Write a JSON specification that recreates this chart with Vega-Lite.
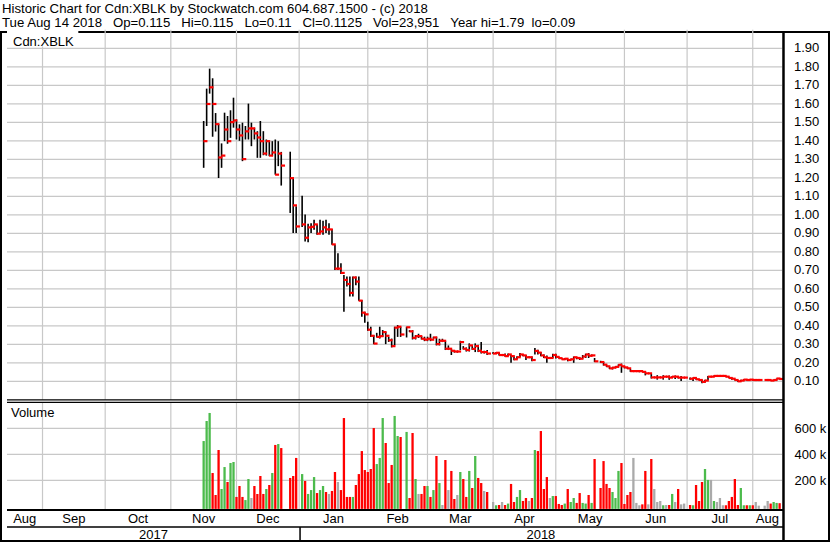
{
"$schema": "https://vega.github.io/schema/vega-lite/v6.json",
"width": 828, "height": 509,
"autosize": {"type": "none"},
"padding": {"left": 1, "top": 32, "right": 1, "bottom": 2},
"background": "white",
"config": {
  "view": {"stroke": "black", "strokeWidth": 2},
  "font": "Liberation Sans",
  "text": {"font": "Liberation Sans", "fontSize": 13, "color": "black"},
  "axis": {"labelFont": "Liberation Sans", "labelFontSize": 13, "labelColor": "black", "domain": false, "ticks": false, "grid": false, "title": null, "labelOverlap": false, "labelFlush": false}
},
"title": {
  "text": ["Historic Chart for Cdn:XBLK by Stockwatch.com 604.687.1500 - (c) 2018",
           "Tue Aug 14 2018\u00a0\u00a0\u00a0Op=0.115\u00a0\u00a0\u00a0Hi=0.115\u00a0\u00a0\u00a0Lo=0.11\u00a0\u00a0\u00a0Cl=0.1125\u00a0\u00a0\u00a0Vol=23,951\u00a0\u00a0\u00a0Year hi=1.79\u00a0\u00a0lo=0.09"],
  "anchor": "start", "frame": "group", "offset": 0, "dx": 1, "dy": 1,
  "font": "Liberation Sans", "fontSize": 13.2, "fontWeight": "normal", "color": "black", "lineHeight": 14.5
},
"datasets": {
  "pgrid": [{"p":0.1},{"p":0.2},{"p":0.3},{"p":0.4},{"p":0.5},{"p":0.6},{"p":0.7},{"p":0.8},{"p":0.9},{"p":1.0},{"p":1.1},{"p":1.2},{"p":1.3},{"p":1.4},{"p":1.5},{"p":1.6},{"p":1.7},{"p":1.8},{"p":1.9}],
  "vgrid": [{"v":200000},{"v":400000},{"v":600000}],
  "mstart": [{"s":0},{"s":21},{"s":43},{"s":65},{"s":86},{"s":109},{"s":129},{"s":151},{"s":172},{"s":195},{"s":216},{"s":238}],
  "mlab": [{"m":"Aug","mid":-5.95},{"m":"Sep","mid":10.5},{"m":"Oct","mid":32},{"m":"Nov","mid":54},{"m":"Dec","mid":75.5},{"m":"Jan","mid":97.5},{"m":"Feb","mid":119},{"m":"Mar","mid":140},{"m":"Apr","mid":161.5},{"m":"May","mid":183.5},{"m":"Jun","mid":205.5},{"m":"Jul","mid":227},{"m":"Aug","mid":242.9}],
  "ylab": [{"y":"2017","mid":37.2},{"y":"2018","mid":167}],
  "bars": [
{"i":54,"h":1.507,"l":1.254,"c":1.398,"v":502000,"d":"up"},
{"i":55,"h":1.682,"l":1.48,"c":1.599,"v":656000,"d":"up"},
{"i":56,"h":1.79,"l":1.655,"c":1.689,"v":718000,"d":"up"},
{"i":57,"h":1.738,"l":1.422,"c":1.599,"v":256000,"d":"down"},
{"i":58,"h":1.55,"l":1.45,"c":1.49,"v":87000,"d":"down"},
{"i":59,"h":1.492,"l":1.199,"c":1.31,"v":433000,"d":"down"},
{"i":60,"h":1.386,"l":1.254,"c":1.32,"v":133000,"d":"up"},
{"i":61,"h":1.552,"l":1.398,"c":1.461,"v":302000,"d":"up"},
{"i":62,"h":1.534,"l":1.384,"c":1.398,"v":187000,"d":"down"},
{"i":63,"h":1.565,"l":1.416,"c":1.501,"v":333000,"d":"up"},
{"i":64,"h":1.633,"l":1.471,"c":1.51,"v":341000,"d":"up"},
{"i":65,"h":1.516,"l":1.407,"c":1.461,"v":72000,"d":"down"},
{"i":66,"h":1.489,"l":1.4,"c":1.429,"v":156000,"d":"down"},
{"i":67,"h":1.498,"l":1.29,"c":1.301,"v":72000,"d":"down"},
{"i":68,"h":1.48,"l":1.407,"c":1.451,"v":48000,"d":"up"},
{"i":69,"h":1.601,"l":1.407,"c":1.467,"v":210000,"d":"up"},
{"i":70,"h":1.498,"l":1.371,"c":1.467,"v":64000,"d":"flat"},
{"i":71,"h":1.471,"l":1.407,"c":1.44,"v":156000,"d":"down"},
{"i":72,"h":1.452,"l":1.308,"c":1.418,"v":95000,"d":"down"},
{"i":73,"h":1.507,"l":1.308,"c":1.398,"v":233000,"d":"down"},
{"i":74,"h":1.452,"l":1.322,"c":1.331,"v":95000,"d":"down"},
{"i":75,"h":1.407,"l":1.32,"c":1.398,"v":133000,"d":"up"},
{"i":76,"h":1.398,"l":1.317,"c":1.32,"v":164000,"d":"down"},
{"i":77,"h":1.398,"l":1.317,"c":1.337,"v":256000,"d":"up"},
{"i":78,"h":1.407,"l":1.217,"c":1.217,"v":472000,"d":"down"},
{"i":79,"h":1.398,"l":1.263,"c":1.331,"v":479000,"d":"up"},
{"i":80,"h":1.34,"l":1.158,"c":1.266,"v":448000,"d":"down"},
{"i":83,"h":1.341,"l":1.01,"c":1.198,"v":218000,"d":"down"},
{"i":84,"h":1.2,"l":0.901,"c":1.051,"v":233000,"d":"down"},
{"i":85,"h":1.046,"l":0.901,"c":0.937,"v":372000,"d":"down"},
{"i":87,"h":1.103,"l":0.934,"c":0.948,"v":248000,"d":"up"},
{"i":88,"h":1.001,"l":0.856,"c":0.876,"v":195000,"d":"down"},
{"i":89,"h":0.952,"l":0.851,"c":0.932,"v":95000,"d":"up"},
{"i":90,"h":0.955,"l":0.901,"c":0.935,"v":125000,"d":"up"},
{"i":91,"h":0.973,"l":0.919,"c":0.948,"v":225000,"d":"up"},
{"i":92,"h":0.946,"l":0.892,"c":0.898,"v":102000,"d":"down"},
{"i":93,"h":0.973,"l":0.901,"c":0.91,"v":125000,"d":"up"},
{"i":94,"h":0.968,"l":0.892,"c":0.932,"v":156000,"d":"up"},
{"i":95,"h":0.973,"l":0.901,"c":0.921,"v":110000,"d":"down"},
{"i":96,"h":0.955,"l":0.892,"c":0.921,"v":95000,"d":"flat"},
{"i":97,"h":0.923,"l":0.838,"c":0.84,"v":118000,"d":"down"},
{"i":98,"h":0.838,"l":0.702,"c":0.709,"v":264000,"d":"down"},
{"i":99,"h":0.792,"l":0.702,"c":0.709,"v":187000,"d":"flat"},
{"i":100,"h":0.738,"l":0.68,"c":0.686,"v":125000,"d":"down"},
{"i":101,"h":0.675,"l":0.476,"c":0.648,"v":679000,"d":"down"},
{"i":102,"h":0.666,"l":0.612,"c":0.626,"v":72000,"d":"down"},
{"i":103,"h":0.666,"l":0.558,"c":0.578,"v":72000,"d":"down"},
{"i":104,"h":0.666,"l":0.558,"c":0.661,"v":72000,"d":"up"},
{"i":105,"h":0.666,"l":0.619,"c":0.639,"v":164000,"d":"down"},
{"i":106,"h":0.666,"l":0.536,"c":0.536,"v":248000,"d":"down"},
{"i":107,"h":0.54,"l":0.449,"c":0.471,"v":425000,"d":"down"},
{"i":108,"h":0.476,"l":0.416,"c":0.462,"v":279000,"d":"down"},
{"i":109,"h":0.422,"l":0.373,"c":0.379,"v":264000,"d":"down"},
{"i":110,"h":0.395,"l":0.34,"c":0.346,"v":287000,"d":"down"},
{"i":111,"h":0.349,"l":0.301,"c":0.304,"v":602000,"d":"down"},
{"i":112,"h":0.362,"l":0.337,"c":0.34,"v":325000,"d":"up"},
{"i":113,"h":0.395,"l":0.331,"c":0.344,"v":372000,"d":"up"},
{"i":114,"h":0.377,"l":0.34,"c":0.366,"v":679000,"d":"up"},
{"i":115,"h":0.368,"l":0.301,"c":0.346,"v":487000,"d":"down"},
{"i":116,"h":0.34,"l":0.313,"c":0.322,"v":179000,"d":"down"},
{"i":117,"h":0.331,"l":0.283,"c":0.29,"v":318000,"d":"down"},
{"i":118,"h":0.395,"l":0.295,"c":0.39,"v":695000,"d":"up"},
{"i":119,"h":0.404,"l":0.34,"c":0.395,"v":541000,"d":"up"},
{"i":120,"h":0.395,"l":0.34,"c":0.353,"v":533000,"d":"down"},
{"i":122,"h":0.395,"l":0.337,"c":0.392,"v":572000,"d":"up"},
{"i":123,"h":0.377,"l":0.366,"c":0.37,"v":64000,"d":"down"},
{"i":124,"h":0.377,"l":0.326,"c":0.335,"v":564000,"d":"down"},
{"i":125,"h":0.35,"l":0.326,"c":0.344,"v":210000,"d":"up"},
{"i":126,"h":0.357,"l":0.334,"c":0.344,"v":95000,"d":"flat"},
{"i":127,"h":0.345,"l":0.326,"c":0.33,"v":95000,"d":"down"},
{"i":128,"h":0.341,"l":0.317,"c":0.325,"v":156000,"d":"down"},
{"i":129,"h":0.341,"l":0.317,"c":0.33,"v":156000,"d":"up"},
{"i":130,"h":0.357,"l":0.317,"c":0.325,"v":72000,"d":"down"},
{"i":131,"h":0.341,"l":0.33,"c":0.337,"v":125000,"d":"up"},
{"i":132,"h":0.341,"l":0.294,"c":0.301,"v":387000,"d":"down"},
{"i":133,"h":0.33,"l":0.294,"c":0.319,"v":179000,"d":"up"},
{"i":134,"h":0.33,"l":0.312,"c":0.319,"v":10000,"d":"flat"},
{"i":135,"h":0.319,"l":0.269,"c":0.276,"v":356000,"d":"down"},
{"i":136,"h":0.294,"l":0.269,"c":0.276,"v":125000,"d":"flat"},
{"i":137,"h":0.276,"l":0.242,"c":0.265,"v":272000,"d":"down"},
{"i":138,"h":0.269,"l":0.255,"c":0.261,"v":56000,"d":"down"},
{"i":139,"h":0.265,"l":0.255,"c":0.261,"v":87000,"d":"flat"},
{"i":140,"h":0.319,"l":0.269,"c":0.312,"v":264000,"d":"up"},
{"i":141,"h":0.29,"l":0.272,"c":0.276,"v":210000,"d":"down"},
{"i":142,"h":0.283,"l":0.261,"c":0.269,"v":72000,"d":"down"},
{"i":143,"h":0.305,"l":0.261,"c":0.294,"v":272000,"d":"up"},
{"i":144,"h":0.294,"l":0.27,"c":0.275,"v":141000,"d":"down"},
{"i":145,"h":0.305,"l":0.258,"c":0.29,"v":387000,"d":"up"},
{"i":146,"h":0.297,"l":0.258,"c":0.265,"v":218000,"d":"down"},
{"i":147,"h":0.312,"l":0.25,"c":0.258,"v":179000,"d":"down"},
{"i":148,"h":0.265,"l":0.25,"c":0.258,"v":118000,"d":"flat"},
{"i":149,"h":0.269,"l":0.242,"c":0.25,"v":110000,"d":"down"},
{"i":151,"h":0.258,"l":0.247,"c":0.25,"v":33000,"d":"flat"},
{"i":152,"h":0.258,"l":0.25,"c":0.254,"v":8000,"d":"up"},
{"i":153,"h":0.254,"l":0.24,"c":0.242,"v":10000,"d":"down"},
{"i":154,"h":0.247,"l":0.24,"c":0.242,"v":33000,"d":"flat"},
{"i":155,"h":0.25,"l":0.233,"c":0.236,"v":10000,"d":"down"},
{"i":156,"h":0.25,"l":0.236,"c":0.245,"v":21000,"d":"up"},
{"i":157,"h":0.242,"l":0.2,"c":0.236,"v":172000,"d":"down"},
{"i":158,"h":0.236,"l":0.214,"c":0.219,"v":33000,"d":"down"},
{"i":159,"h":0.236,"l":0.219,"c":0.23,"v":72000,"d":"up"},
{"i":160,"h":0.253,"l":0.232,"c":0.245,"v":125000,"d":"up"},
{"i":161,"h":0.245,"l":0.236,"c":0.24,"v":41000,"d":"down"},
{"i":162,"h":0.242,"l":0.215,"c":0.23,"v":64000,"d":"down"},
{"i":163,"h":0.234,"l":0.226,"c":0.23,"v":41000,"d":"flat"},
{"i":164,"h":0.234,"l":0.208,"c":0.215,"v":64000,"d":"down"},
{"i":165,"h":0.28,"l":0.245,"c":0.264,"v":433000,"d":"up"},
{"i":166,"h":0.27,"l":0.245,"c":0.255,"v":425000,"d":"down"},
{"i":167,"h":0.258,"l":0.236,"c":0.24,"v":579000,"d":"down"},
{"i":168,"h":0.245,"l":0.226,"c":0.23,"v":133000,"d":"down"},
{"i":169,"h":0.24,"l":0.2,"c":0.226,"v":225000,"d":"down"},
{"i":170,"h":0.23,"l":0.222,"c":0.226,"v":64000,"d":"flat"},
{"i":171,"h":0.249,"l":0.226,"c":0.242,"v":79000,"d":"up"},
{"i":172,"h":0.249,"l":0.223,"c":0.232,"v":79000,"d":"down"},
{"i":173,"h":0.234,"l":0.223,"c":0.225,"v":18000,"d":"down"},
{"i":174,"h":0.226,"l":0.219,"c":0.219,"v":10000,"d":"down"},
{"i":175,"h":0.226,"l":0.215,"c":0.222,"v":21000,"d":"up"},
{"i":176,"h":0.222,"l":0.208,"c":0.215,"v":133000,"d":"down"},
{"i":177,"h":0.222,"l":0.215,"c":0.219,"v":33000,"d":"up"},
{"i":178,"h":0.234,"l":0.2,"c":0.23,"v":64000,"d":"up"},
{"i":179,"h":0.23,"l":0.219,"c":0.226,"v":26000,"d":"down"},
{"i":180,"h":0.23,"l":0.215,"c":0.222,"v":102000,"d":"down"},
{"i":181,"h":0.242,"l":0.222,"c":0.234,"v":26000,"d":"up"},
{"i":182,"h":0.249,"l":0.226,"c":0.245,"v":21000,"d":"up"},
{"i":183,"h":0.253,"l":0.226,"c":0.238,"v":87000,"d":"down"},
{"i":184,"h":0.245,"l":0.234,"c":0.24,"v":26000,"d":"up"},
{"i":185,"h":0.226,"l":0.204,"c":0.208,"v":364000,"d":"down"},
{"i":187,"h":0.211,"l":0.2,"c":0.204,"v":141000,"d":"down"},
{"i":188,"h":0.204,"l":0.185,"c":0.19,"v":348000,"d":"down"},
{"i":189,"h":0.19,"l":0.178,"c":0.181,"v":172000,"d":"down"},
{"i":190,"h":0.181,"l":0.166,"c":0.17,"v":141000,"d":"down"},
{"i":191,"h":0.178,"l":0.164,"c":0.174,"v":110000,"d":"up"},
{"i":192,"h":0.181,"l":0.17,"c":0.178,"v":64000,"d":"up"},
{"i":193,"h":0.192,"l":0.178,"c":0.189,"v":272000,"d":"up"},
{"i":194,"h":0.196,"l":0.146,"c":0.181,"v":333000,"d":"down"},
{"i":195,"h":0.181,"l":0.17,"c":0.175,"v":18000,"d":"down"},
{"i":196,"h":0.178,"l":0.166,"c":0.17,"v":87000,"d":"down"},
{"i":197,"h":0.166,"l":0.151,"c":0.155,"v":110000,"d":"down"},
{"i":198,"h":0.16,"l":0.151,"c":0.155,"v":372000,"d":"flat"},
{"i":199,"h":0.155,"l":0.155,"c":0.155,"v":26000,"d":"flat"},
{"i":200,"h":0.16,"l":0.149,"c":0.155,"v":8000,"d":"flat"},
{"i":201,"h":0.155,"l":0.149,"c":0.151,"v":15000,"d":"down"},
{"i":202,"h":0.155,"l":0.132,"c":0.143,"v":272000,"d":"down"},
{"i":203,"h":0.143,"l":0.143,"c":0.143,"v":15000,"d":"flat"},
{"i":204,"h":0.14,"l":0.115,"c":0.121,"v":364000,"d":"down"},
{"i":205,"h":0.125,"l":0.118,"c":0.121,"v":133000,"d":"flat"},
{"i":206,"h":0.133,"l":0.109,"c":0.121,"v":33000,"d":"flat"},
{"i":207,"h":0.125,"l":0.118,"c":0.121,"v":41000,"d":"flat"},
{"i":208,"h":0.133,"l":0.109,"c":0.125,"v":8000,"d":"up"},
{"i":209,"h":0.125,"l":0.125,"c":0.125,"v":10000,"d":"flat"},
{"i":210,"h":0.131,"l":0.109,"c":0.12,"v":10000,"d":"down"},
{"i":211,"h":0.129,"l":0.118,"c":0.125,"v":95000,"d":"up"},
{"i":212,"h":0.131,"l":0.113,"c":0.125,"v":33000,"d":"flat"},
{"i":213,"h":0.125,"l":0.115,"c":0.12,"v":133000,"d":"down"},
{"i":214,"h":0.128,"l":0.102,"c":0.12,"v":15000,"d":"flat"},
{"i":215,"h":0.12,"l":0.12,"c":0.12,"v":21000,"d":"flat"},
{"i":217,"h":0.12,"l":0.109,"c":0.114,"v":10000,"d":"down"},
{"i":218,"h":0.12,"l":0.102,"c":0.118,"v":8000,"d":"up"},
{"i":219,"h":0.12,"l":0.109,"c":0.111,"v":164000,"d":"down"},
{"i":220,"h":0.111,"l":0.104,"c":0.107,"v":41000,"d":"down"},
{"i":221,"h":0.109,"l":0.09,"c":0.097,"v":187000,"d":"down"},
{"i":222,"h":0.109,"l":0.093,"c":0.104,"v":287000,"d":"up"},
{"i":223,"h":0.128,"l":0.106,"c":0.125,"v":203000,"d":"up"},
{"i":224,"h":0.128,"l":0.122,"c":0.125,"v":203000,"d":"flat"},
{"i":225,"h":0.131,"l":0.125,"c":0.129,"v":41000,"d":"up"},
{"i":226,"h":0.129,"l":0.129,"c":0.129,"v":33000,"d":"flat"},
{"i":227,"h":0.131,"l":0.127,"c":0.129,"v":64000,"d":"flat"},
{"i":228,"h":0.129,"l":0.129,"c":0.129,"v":8000,"d":"flat"},
{"i":229,"h":0.129,"l":0.122,"c":0.125,"v":8000,"d":"down"},
{"i":230,"h":0.125,"l":0.116,"c":0.118,"v":41000,"d":"down"},
{"i":231,"h":0.12,"l":0.109,"c":0.114,"v":72000,"d":"down"},
{"i":232,"h":0.114,"l":0.104,"c":0.107,"v":210000,"d":"down"},
{"i":233,"h":0.107,"l":0.097,"c":0.1,"v":10000,"d":"down"},
{"i":234,"h":0.109,"l":0.1,"c":0.104,"v":141000,"d":"up"},
{"i":235,"h":0.111,"l":0.104,"c":0.109,"v":8000,"d":"up"},
{"i":236,"h":0.109,"l":0.104,"c":0.107,"v":8000,"d":"down"},
{"i":237,"h":0.111,"l":0.107,"c":0.109,"v":8000,"d":"up"},
{"i":238,"h":0.109,"l":0.104,"c":0.107,"v":8000,"d":"down"},
{"i":239,"h":0.107,"l":0.107,"c":0.107,"v":33000,"d":"flat"},
{"i":240,"h":0.107,"l":0.107,"c":0.107,"v":5000,"d":"flat"},
{"i":242,"h":0.107,"l":0.107,"c":0.107,"v":5000,"d":"flat"},
{"i":243,"h":0.111,"l":0.104,"c":0.107,"v":41000,"d":"flat"},
{"i":244,"h":0.107,"l":0.102,"c":0.104,"v":21000,"d":"down"},
{"i":245,"h":0.109,"l":0.104,"c":0.107,"v":33000,"d":"up"},
{"i":246,"h":0.115,"l":0.104,"c":0.115,"v":26000,"d":"up"},
{"i":247,"h":0.115,"l":0.11,"c":0.1125,"v":23951,"d":"down"}
  ]
},
"resolve": {"scale": {"y": "independent"}, "axis": {"y": "independent"}},
"layer": [
  {"layer": [
    {"data": {"name": "pgrid"},
     "mark": {"type": "rule", "color": "#c8c8c8", "strokeWidth": 1.2},
     "encoding": {
       "x": {"datum": -11.9, "type": "quantitative", "scale": {"domain": [-11.9, 247.8], "range": [1, 786], "nice": false, "zero": false}, "axis": null},
       "x2": {"datum": 247.8},
       "y": {"field": "p", "type": "quantitative", "scale": {"domain": [0, 2], "range": [367.8, -2.2], "nice": false, "zero": false}, "axis": null}
     }},
    {"data": {"name": "pgrid"},
     "mark": {"type": "text", "align": "left", "baseline": "middle", "dx": 12, "fontSize": 13},
     "encoding": {
       "x": {"datum": 247.8, "type": "quantitative", "scale": {"domain": [-11.9, 247.8], "range": [1, 786], "nice": false, "zero": false}, "axis": null},
       "y": {"field": "p", "type": "quantitative"},
       "text": {"field": "p", "type": "quantitative", "format": ".2f"}
     }},
    {"data": {"name": "mstart"},
     "mark": {"type": "rule", "color": "#c8c8c8", "strokeWidth": 1.2},
     "encoding": {
       "x": {"field": "s", "type": "quantitative", "scale": {"domain": [-11.9, 247.8], "range": [1, 786], "nice": false, "zero": false}, "axis": null},
       "y": {"datum": 0, "type": "quantitative"},
       "y2": {"datum": 2}
     }},
    {"data": {"values": [{"t": "Cdn:XBLK"}]},
     "mark": {"type": "rect", "color": "white"},
     "encoding": {
       "x": {"datum": -11.9, "type": "quantitative", "scale": {"domain": [-11.9, 247.8], "range": [1, 786], "nice": false, "zero": false}, "axis": null},
       "x2": {"datum": 12},
       "y": {"datum": 2, "type": "quantitative"},
       "y2": {"datum": 1.91}
     }},
    {"data": {"values": [{"t": "Cdn:XBLK"}]},
     "mark": {"type": "text", "align": "left", "baseline": "middle", "dx": 6, "dy": 12, "fontSize": 13},
     "encoding": {
       "x": {"datum": -11.9, "type": "quantitative", "scale": {"domain": [-11.9, 247.8], "range": [1, 786], "nice": false, "zero": false}, "axis": null},
       "y": {"datum": 2, "type": "quantitative"},
       "text": {"field": "t"}
     }},
    {"data": {"name": "bars"},
     "mark": {"type": "rule", "color": "black", "strokeWidth": 1.6},
     "encoding": {
       "x": {"field": "i", "type": "quantitative", "scale": {"domain": [-11.9, 247.8], "range": [1, 786], "nice": false, "zero": false}, "axis": null},
       "y": {"field": "l", "type": "quantitative"},
       "y2": {"field": "h"}
     }},
    {"data": {"name": "bars"},
     "mark": {"type": "tick", "orient": "horizontal", "color": "#ff0000", "size": 4, "thickness": 2.2, "xOffset": 1.8, "opacity": 1},
     "encoding": {
       "x": {"field": "i", "type": "quantitative", "scale": {"domain": [-11.9, 247.8], "range": [1, 786], "nice": false, "zero": false}, "axis": null},
       "y": {"field": "c", "type": "quantitative"}
     }},
    {"data": {"values": [{}]},
     "mark": {"type": "rule", "color": "black", "strokeWidth": 1.2},
     "encoding": {
       "x": {"datum": -11.9, "type": "quantitative", "scale": {"domain": [-11.9, 247.8], "range": [1, 786], "nice": false, "zero": false}, "axis": null},
       "x2": {"datum": 248.3},
       "y": {"datum": 0, "type": "quantitative"}
     }}
  ]},
  {"layer": [
    {"data": {"name": "vgrid"},
     "mark": {"type": "rule", "color": "#c8c8c8", "strokeWidth": 1.2},
     "encoding": {
       "x": {"datum": -11.9, "type": "quantitative", "scale": {"domain": [-11.9, 247.8], "range": [1, 786], "nice": false, "zero": false}, "axis": null},
       "x2": {"datum": 247.8},
       "y": {"field": "v", "type": "quantitative", "scale": {"domain": [-20000, 800000], "range": [476.9, 370.3], "nice": false, "zero": false},
             "axis": {"orient": "right", "offset": -41, "values": [200000, 400000, 600000], "labelExpr": "format(datum.value/1000, 'd') + ' k'", "labelPadding": 6, "labelOverlap": false, "labelFlush": false, "labelBaseline": "middle"}}
     }},
    {"data": {"name": "mstart"},
     "mark": {"type": "rule", "color": "#c8c8c8", "strokeWidth": 1.2},
     "encoding": {
       "x": {"field": "s", "type": "quantitative", "scale": {"domain": [-11.9, 247.8], "range": [1, 786], "nice": false, "zero": false}, "axis": null},
       "y": {"datum": -20000, "type": "quantitative"},
       "y2": {"datum": 800000}
     }},
    {"data": {"name": "bars"},
     "mark": {"type": "bar", "width": 2.3},
     "encoding": {
       "x": {"field": "i", "type": "quantitative", "scale": {"domain": [-11.9, 247.8], "range": [1, 786], "nice": false, "zero": false}, "axis": null},
       "y": {"field": "v", "type": "quantitative"},
       "y2": {"datum": -20000},
       "color": {"field": "d", "type": "nominal", "scale": {"domain": ["up", "down", "flat"], "range": ["#4cbb4c", "#ff0000", "#aaaaaa"]}, "legend": null}
     }},
    {"data": {"values": [{}]},
     "mark": {"type": "rule", "color": "black", "strokeWidth": 1.2},
     "encoding": {
       "x": {"datum": -11.9, "type": "quantitative", "scale": {"domain": [-11.9, 247.8], "range": [1, 786], "nice": false, "zero": false}, "axis": null},
       "x2": {"datum": 248.3},
       "y": {"datum": 800000, "type": "quantitative"}
     }},
    {"data": {"values": [{"t": "Volume"}]},
     "mark": {"type": "text", "align": "left", "baseline": "middle", "dx": 4, "dy": 11, "fontSize": 13},
     "encoding": {
       "x": {"datum": -11.9, "type": "quantitative", "scale": {"domain": [-11.9, 247.8], "range": [1, 786], "nice": false, "zero": false}, "axis": null},
       "y": {"datum": 800000, "type": "quantitative"},
       "text": {"field": "t"}
     }}
  ]},
  {"layer": [
    {"data": {"values": [{}]},
     "mark": {"type": "rule", "color": "black", "strokeWidth": 2},
     "encoding": {
       "x": {"datum": -11.9, "type": "quantitative", "scale": {"domain": [-11.9, 247.8], "range": [1, 786], "nice": false, "zero": false}, "axis": null},
       "x2": {"datum": 248.3},
       "y": {"datum": 0, "type": "quantitative", "scale": {"domain": [0, 1], "range": [478, 509], "nice": false, "zero": false}, "axis": null}
     }},
    {"data": {"values": [{}]},
     "mark": {"type": "rule", "color": "black", "strokeWidth": 1.5},
     "encoding": {
       "x": {"datum": -11.9, "type": "quantitative", "scale": {"domain": [-11.9, 247.8], "range": [1, 786], "nice": false, "zero": false}, "axis": null},
       "x2": {"datum": 248.3},
       "y": {"datum": 0.548, "type": "quantitative"}
     }},
    {"data": {"values": [{}]},
     "mark": {"type": "rule", "color": "black", "strokeWidth": 1.5},
     "encoding": {
       "x": {"datum": 86.3, "type": "quantitative", "scale": {"domain": [-11.9, 247.8], "range": [1, 786], "nice": false, "zero": false}, "axis": null},
       "y": {"datum": 0.548, "type": "quantitative"},
       "y2": {"datum": 1}
     }},
    {"data": {"values": [{}]},
     "mark": {"type": "rule", "color": "black", "strokeWidth": 2.5},
     "encoding": {
       "x": {"datum": 248.3, "type": "quantitative", "scale": {"domain": [-11.9, 247.8], "range": [1, 786], "nice": false, "zero": false}, "axis": null}
     }},
    {"data": {"name": "mlab"},
     "mark": {"type": "text", "align": "center", "baseline": "middle", "fontSize": 13},
     "encoding": {
       "x": {"field": "mid", "type": "quantitative", "scale": {"domain": [-11.9, 247.8], "range": [1, 786], "nice": false, "zero": false}, "axis": null},
       "y": {"datum": 0.29, "type": "quantitative"},
       "text": {"field": "m"}
     }},
    {"data": {"name": "ylab"},
     "mark": {"type": "text", "align": "center", "baseline": "middle", "fontSize": 13},
     "encoding": {
       "x": {"field": "mid", "type": "quantitative", "scale": {"domain": [-11.9, 247.8], "range": [1, 786], "nice": false, "zero": false}, "axis": null},
       "y": {"datum": 0.806, "type": "quantitative"},
       "text": {"field": "y"}
     }}
  ]}
]
}
